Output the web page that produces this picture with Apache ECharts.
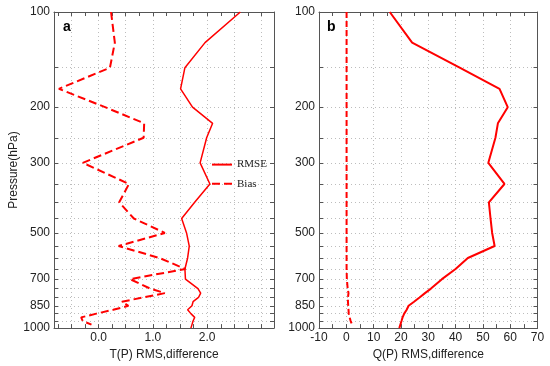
<!DOCTYPE html>
<html>
<head>
<meta charset="utf-8">
<script src="https://cdn.jsdelivr.net/npm/echarts@6/dist/echarts.min.js"></script>
<style>html,body{margin:0;padding:0;background:#fff}#c{width:550px;height:366px}</style>
</head>
<body>
<div id="c"></div>
<script>
// Pressure levels (hPa)
const levels = [100,125,150,175,200,225,250,300,350,400,450,500,550,600,650,700,750,775,800,825,850,875,900,925,950,975,1000];
// Panel a: temperature
const tRmse = [2.61,1.96,1.59,1.51,1.73,2.10,1.99,1.87,2.05,1.77,1.53,1.62,1.67,1.64,1.59,1.60,1.83,1.88,1.84,1.74,1.72,1.64,1.70,1.77,1.74,1.72,1.70];
const tBias = [0.23,0.30,0.21,-0.73,0.12,0.84,0.83,-0.29,0.56,0.38,0.65,1.22,0.37,1.12,1.60,0.58,0.95,1.22,0.82,0.43,0.55,0.27,-0.04,-0.32,-0.29,-0.13,null];
// Panel b: humidity
const qRmse = [15.9,24.1,41.5,56.1,59.1,55.5,54.6,52.0,57.9,52.2,52.8,53.4,54.3,44.5,40.0,35.0,31.0,28.8,26.8,24.8,22.8,22.1,21.2,20.6,20.2,19.8,19.4];
const qBias = [0.1,0.1,0.1,0.1,0.1,0.1,0.1,0.1,0.1,0.1,0.1,0.1,0.1,0.1,0.1,0.2,0.5,0.8,0.6,0.6,0.7,0.8,0.9,1.2,1.6,2.1,null];
// Axis ticks and labels
const pressureTicks = [100,150,200,250,300,350,400,450,500,550,600,650,700,750,800,850,900,950,1000];
const pressureLabels = [100,200,300,500,700,850,1000];
const tTicks = [-0.75,-0.5,-0.25,0,0.25,0.5,0.75,1,1.25,1.5,1.75,2,2.25,2.5,2.75,3];
const tGrid = [-0.5,0,0.5,1,1.5,2,2.5,3];
const tLabels = [0,1,2];
const tRange = [-0.82, 3.23];
const qRange = [-10, 70];

function pairs(vals){ return levels.map((p,i)=> vals[i]==null?null:[vals[i],p]).filter(d=>d); }

const frame = '#555';
const txt = '#222';
const font = 'Liberation Sans';
const gridLine = {show:true, lineStyle:{color:'#bdbdbd', type:[1,3], width:1}};
const logTicks = pressureTicks.map(p=>Math.log10(p));
const logLabels = pressureLabels.map(p=>Math.log10(p));

function yAxes(gi, withName){
  return [
    {gridIndex:gi, type:'log', min:100, max:1000, inverse:true, show:false},
    {gridIndex:gi, type:'value', min:2, max:3, inverse:true, position:'left',
     name: withName?'Pressure(hPa)':'', nameLocation:'middle', nameGap:33,
     nameTextStyle:{fontFamily:font, fontSize:12, color:txt},
     axisLine:{show:true, onZero:false, lineStyle:{color:frame}},
     axisTick:{show:true, inside:true, length:4, customValues:logTicks, lineStyle:{color:frame}},
     axisLabel:{show:true, margin:4, customValues:logLabels, fontFamily:font, fontSize:12, color:txt,
       formatter:v=>String(Math.round(Math.pow(10,v)))},
     splitLine:gridLine},
    {gridIndex:gi, type:'value', min:2, max:3, inverse:true, position:'right',
     axisLine:{show:true, onZero:false, lineStyle:{color:frame}},
     axisTick:{show:true, inside:true, length:4, customValues:logTicks, lineStyle:{color:frame}},
     axisLabel:{show:false}, splitLine:{show:false}}
  ];
}

const option = {
  animation:false,
  backgroundColor:'#fff',
  grid:[
    {left:54, top:12, width:220, height:319},
    {left:319, top:12, width:218.5, height:319}
  ],
  xAxis:[
    {gridIndex:0, type:'value', min:tRange[0], max:tRange[1], position:'bottom',
     name:'T(P) RMS,difference', nameLocation:'middle', nameGap:17,
     nameTextStyle:{fontFamily:font, fontSize:12, color:txt},
     axisLine:{show:true, onZero:false, lineStyle:{color:frame}},
     axisTick:{show:true, inside:true, length:4, customValues:tTicks, lineStyle:{color:frame}},
     axisLabel:{show:true, margin:4, customValues:tLabels, fontFamily:font, fontSize:12, color:txt, formatter:v=>v.toFixed(1)},
     splitLine:{show:false}},
    {gridIndex:0, type:'value', min:tRange[0], max:tRange[1], position:'top',
     axisLine:{show:true, onZero:false, lineStyle:{color:frame}},
     axisTick:{show:true, inside:true, length:4, customValues:tTicks, lineStyle:{color:frame}},
     axisLabel:{show:false}, splitLine:{show:false}},
    {gridIndex:0, type:'value', min:tRange[0], max:tRange[1], position:'bottom',
     axisLine:{show:false, onZero:false},
     axisTick:{show:false, customValues:tGrid},
     axisLabel:{show:false}, splitLine:gridLine},
    {gridIndex:1, type:'value', min:qRange[0], max:qRange[1], interval:10, position:'bottom',
     name:'Q(P) RMS,difference', nameLocation:'middle', nameGap:17,
     nameTextStyle:{fontFamily:font, fontSize:12, color:txt},
     axisLine:{show:true, onZero:false, lineStyle:{color:frame}},
     axisTick:{show:true, inside:true, length:4, lineStyle:{color:frame}},
     minorTick:{show:true, splitNumber:2, length:4, lineStyle:{color:frame}},
     axisLabel:{show:true, margin:4, fontFamily:font, fontSize:12, color:txt, showMinLabel:true, showMaxLabel:true},
     splitLine:gridLine},
    {gridIndex:1, type:'value', min:qRange[0], max:qRange[1], interval:10, position:'top',
     axisLine:{show:true, onZero:false, lineStyle:{color:frame}},
     axisTick:{show:true, inside:true, length:4, lineStyle:{color:frame}},
     minorTick:{show:true, splitNumber:2, length:4, lineStyle:{color:frame}},
     axisLabel:{show:false}, splitLine:{show:false}}
  ],
  yAxis: yAxes(0,true).concat(yAxes(1,false)),
  legend:{
    left:211, top:159, orient:'vertical', padding:0, itemWidth:20, itemHeight:14, itemGap:8,
    itemStyle:{color:'rgba(0,0,0,0)', borderWidth:0, opacity:0},
    textStyle:{fontFamily:'Liberation Serif', fontSize:11, color:txt},
    data:['RMSE','Bias'], selectedMode:false
  },
  graphic:[
    {type:'text', left:63, top:20, style:{text:'a', font:'bold 14px Liberation Sans', fill:'#000'}},
    {type:'text', left:327, top:20, style:{text:'b', font:'bold 14px Liberation Sans', fill:'#000'}}
  ],
  series:[
    {name:'RMSE', type:'line', xAxisIndex:0, yAxisIndex:0, data:pairs(tRmse), symbol:'none',
     lineStyle:{color:'#ff0000', width:1.5}, itemStyle:{color:'#ff0000'}},
    {name:'Bias', type:'line', xAxisIndex:0, yAxisIndex:0, data:pairs(tBias), symbol:'none',
     lineStyle:{color:'#ff0000', width:2, type:[8,4]}, itemStyle:{color:'#ff0000'}},
    {name:'RMSE', type:'line', xAxisIndex:3, yAxisIndex:3, data:pairs(qRmse), symbol:'none',
     lineStyle:{color:'#ff0000', width:2}, itemStyle:{color:'#ff0000'}},
    {name:'Bias', type:'line', xAxisIndex:3, yAxisIndex:3, data:pairs(qBias), symbol:'none',
     lineStyle:{color:'#ff0000', width:2, type:[6,3]}, itemStyle:{color:'#ff0000'}}
  ]
};
const chart = echarts.init(document.getElementById('c'), null, {renderer:'canvas'});
chart.setOption(option);
</script>
</body>
</html>
